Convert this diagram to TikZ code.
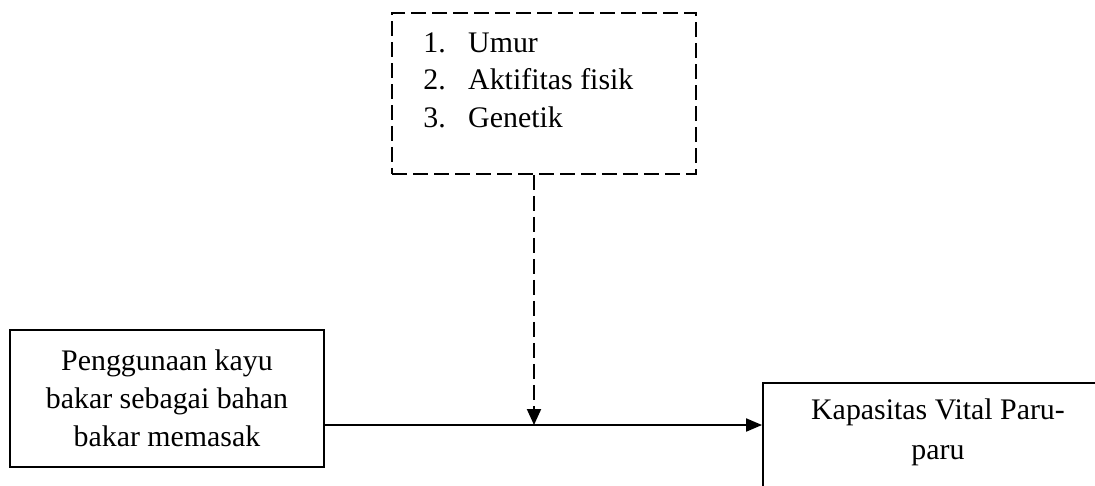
\documentclass[tikz,border=0pt]{standalone}
\usepackage{fontspec}
\setmainfont{Liberation Serif}
\usetikzlibrary{arrows.meta}
\begin{document}
\begin{tikzpicture}[x=0.02cm,y=-0.02cm,
  solidbox/.style={draw, line width=1.1pt, inner sep=0pt},
  dashbox/.style={draw, line width=1.1pt, dash pattern=on 0.3cm off 0.12cm, inner sep=0pt},
  txt/.style={font=\fontsize{17}{21.5}\selectfont, inner sep=0pt},
  conn/.style={line width=1.1pt, -{Triangle[length=0.32cm,width=0.26cm]}},
  dconn/.style={line width=1.1pt, dash pattern=on 0.3cm off 0.12cm, -{Triangle[length=0.32cm,width=0.28cm]}}
]
\useasboundingbox (0,0) rectangle (1095,485);
\clip (0,0) rectangle (1095,485);
\fill[white] (0,0) rectangle (1095,485);

% dashed factor box
\node[dashbox, minimum width=6.08cm, minimum height=3.22cm] (dbox) at (544,93.5) {};
\node[txt, anchor=base west] (list) at (423,52) {%
  \begin{tabular}[t]{@{}l@{\hspace{0.45cm}}l@{}}
  1. & Umur\\
  2. & Aktifitas fisik\\
  3. & Genetik
  \end{tabular}};

% left box
\node[solidbox, txt, align=center, minimum width=6.28cm, minimum height=2.74cm] (lbox) at (167,398.5)
  {Penggunaan kayu\\bakar sebagai bahan\\bakar memasak};

% right box
\node[solidbox, minimum width=7.14cm, minimum height=2.3cm] (rbox) at (941.5,440.5) {};
\node[txt, align=center, font=\fontsize{17}{22.7}\selectfont] (rtext) at (938,432) {Kapasitas Vital Paru-\\paru};

\coordinate (j) at (534,425);

\draw[conn] (lbox.east |- j) -- (rbox.west |- j);
\draw[dconn] (dbox.south -| j) -- (j);
\end{tikzpicture}
\end{document}
